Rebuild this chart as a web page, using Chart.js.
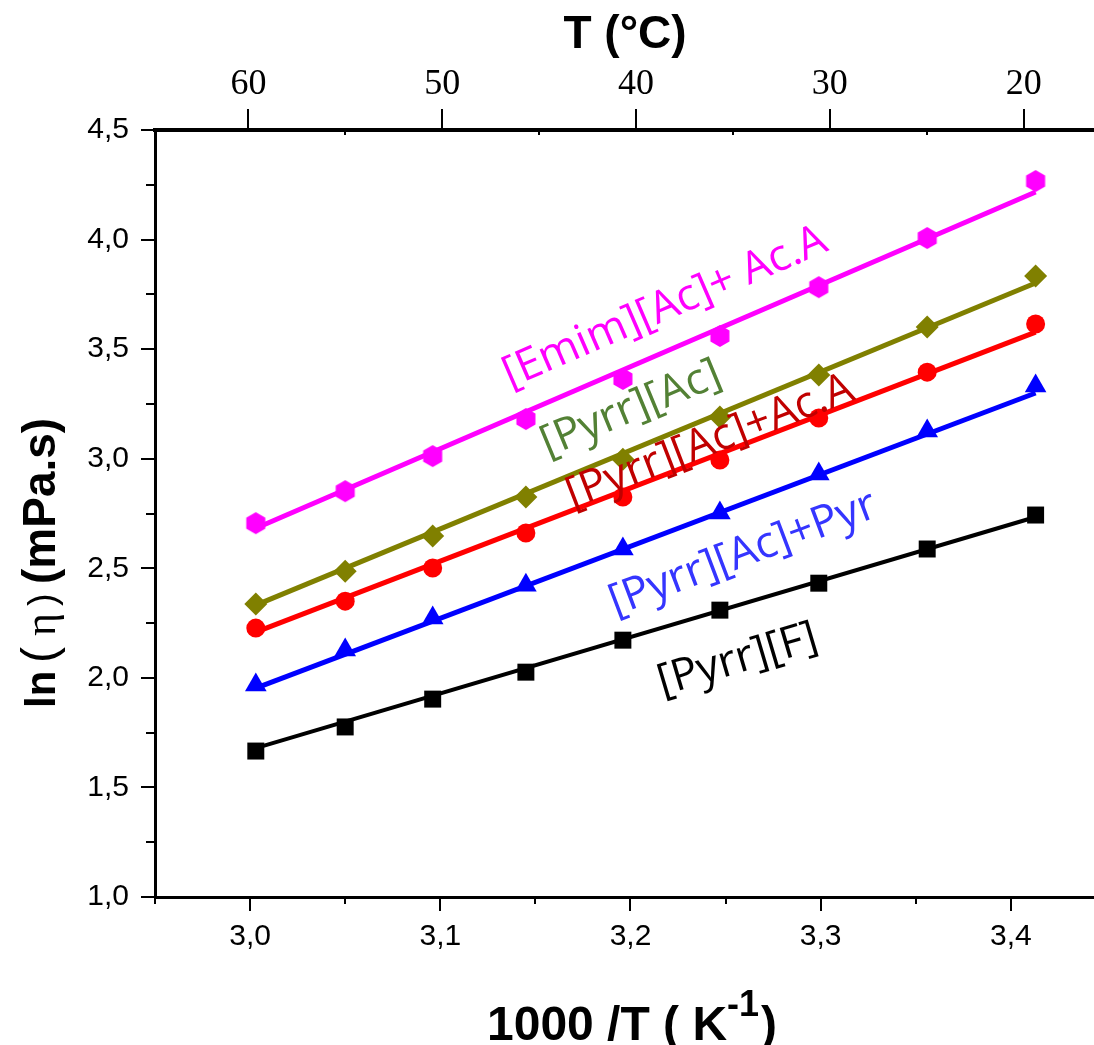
<!DOCTYPE html>
<html>
<head>
<meta charset="utf-8">
<script src="https://cdn.jsdelivr.net/npm/chart.js@4.4.1/dist/chart.umd.min.js"></script>
<style>
  html, body { margin: 0; padding: 0; background: #fff; overflow: hidden; }
  #wrap { position: relative; width: 1094px; height: 1045px; }
  canvas { display: block; }
</style>
</head>
<body>
<div id="wrap"><canvas id="chart"></canvas></div>
<script>
// 1000/T (K^-1) of the measured temperatures
var invT = [3.003, 3.050, 3.096, 3.145, 3.196, 3.247, 3.299, 3.356, 3.413];

// ln(viscosity) per sample
var pyrrF     = [1.666, 1.776, 1.903, 2.026, 2.172, 2.309, 2.432, 2.588, 2.743];
var pyrrAcPyr = [1.967, 2.127, 2.273, 2.423, 2.588, 2.752, 2.930, 3.126, 3.332];
var pyrrAcAcA = [2.227, 2.350, 2.501, 2.661, 2.825, 2.994, 3.186, 3.395, 3.615];
var pyrrAc    = [2.337, 2.487, 2.647, 2.825, 2.998, 3.190, 3.382, 3.601, 3.834];
var emimAcAcA = [2.706, 2.852, 3.012, 3.181, 3.364, 3.560, 3.783, 4.007, 4.267];

// linear fit lines, value at first and last point
var fitX         = [3.003, 3.413];
var fitPyrrF     = [1.679, 2.734];
var fitPyrrAcPyr = [1.953, 3.300];
var fitPyrrAcAcA = [2.209, 3.578];
var fitPyrrAc    = [2.332, 3.802];
var fitEmimAcAcA = [2.683, 4.217];

var seriesNames = ["[Pyrr][F]", "[Pyrr][Ac]+Pyr", "[Pyrr][Ac]+Ac.A", "[Pyrr][Ac]", "[Emim][Ac]+ Ac.A"];

// tick values
var invTTicks  = [3.0, 3.1, 3.2, 3.3, 3.4];
var invTMinor  = [2.95, 3.05, 3.15, 3.25, 3.35];
var tempTicks  = [20, 30, 40, 50, 60];
var tempMinor  = [25, 35, 45, 55];
var lnTicks    = [1.0, 1.5, 2.0, 2.5, 3.0, 3.5, 4.0, 4.5];
var lnMinor    = [1.25, 1.75, 2.25, 2.75, 3.25, 3.75, 4.25];

function hexagon(color, r) {
    var c = document.createElement("canvas");
    var s = Math.ceil(r * 2 + 2);
    c.width = s;
    c.height = s;
    var g = c.getContext("2d");
    g.fillStyle = color;
    g.beginPath();
    for (var i = 0; i < 6; i++) {
        var a = Math.PI / 2 + i * Math.PI / 3;
        g.lineTo(s / 2 + r * Math.cos(a), s / 2 + r * Math.sin(a));
    }
    g.closePath();
    g.fill();
    return c;
}

var values = [pyrrF, pyrrAcPyr, pyrrAcAcA, pyrrAc, emimAcAcA];
var fits = [fitPyrrF, fitPyrrAcPyr, fitPyrrAcAcA, fitPyrrAc, fitEmimAcAcA];
var styles = [
    { color: "#000000", text: "#000000", point: "rect", radius: 12, width: 4 },
    { color: "#0000ff", text: "#3535ff", point: "triangle", radius: 12.5, width: 5 },
    { color: "#ff0000", text: "#c00000", point: "circle", radius: 9.5, width: 5 },
    { color: "#808000", text: "#538135", point: "rectRot", radius: 11.5, width: 5 },
    { color: "#ff00ff", text: "#ff00ff", point: hexagon("#ff00ff", 11), radius: 11, width: 5 }
];
// where each curve name sits (data coordinates of the text centre)
var notePos = [
    { x: 3.2563, y: 2.081 },
    { x: 3.2591, y: 2.565 },
    { x: 3.2418, y: 3.076 },
    { x: 3.2003, y: 3.227 },
    { x: 3.2181, y: 3.690 }
];

var datasets = [];
values.forEach(function (v, i) {
    var st = styles[i];
    datasets.push({
        label: seriesNames[i] + " fit",
        data: fitX.map(function (x, k) { return { x: x, y: fits[i][k] }; }),
        showLine: true,
        borderColor: st.color,
        borderWidth: st.width,
        pointRadius: 0,
        xAxisID: "x",
        yAxisID: "y"
    });
    datasets.push({
        label: seriesNames[i],
        data: invT.map(function (x, k) { return { x: x, y: v[k] }; }),
        showLine: false,
        pointStyle: st.point,
        pointRadius: st.radius,
        backgroundColor: st.color,
        borderColor: st.color,
        borderWidth: 0,
        xAxisID: "x",
        yAxisID: "y"
    });
});

var sans = "'Liberation Sans', Arial, sans-serif";
var serif = "'Liberation Serif', 'Times New Roman', serif";

function fixTicks(list) {
    return function (scale) {
        scale.ticks = list.map(function (v) { return { value: v }; });
    };
}
function comma(v) { return Number(v).toFixed(1).replace(".", ","); }

var blackGrid = function (len) {
    return { display: true, drawOnChartArea: false, drawTicks: true, tickLength: len,
             tickWidth: 2, tickColor: "#000", color: "#000", lineWidth: 2 };
};

var decor = {
    id: "decor",
    afterDraw: function (chart) {
        var ctx = chart.ctx;
        var a = chart.chartArea;
        var sx = chart.scales.x, sy = chart.scales.y, st = chart.scales.x2;
        ctx.save();
        ctx.strokeStyle = "#000";
        ctx.lineWidth = 2;
        ctx.beginPath();
        invTMinor.forEach(function (v) {
            var p = Math.round(sx.getPixelForValue(v));
            ctx.moveTo(p, a.bottom); ctx.lineTo(p, a.bottom + 7);
        });
        lnMinor.forEach(function (v) {
            var p = Math.round(sy.getPixelForValue(v));
            ctx.moveTo(a.left, p); ctx.lineTo(a.left - 9, p);
        });
        tempMinor.forEach(function (v) {
            var p = Math.round(st.getPixelForValue(v));
            ctx.moveTo(p, a.top); ctx.lineTo(p, a.top + 5);
        });
        ctx.stroke();

        // curve names, parallel to their fit lines
        ctx.font = "44px 'Open Sans', sans-serif";
        ctx.textAlign = "center";
        ctx.textBaseline = "middle";
        notePos.forEach(function (n, i) {
            var f = fits[i];
            var dx = sx.getPixelForValue(fitX[1]) - sx.getPixelForValue(fitX[0]);
            var dy = sy.getPixelForValue(f[1]) - sy.getPixelForValue(f[0]);
            ctx.save();
            ctx.translate(sx.getPixelForValue(n.x), sy.getPixelForValue(n.y));
            ctx.rotate(Math.atan2(dy, dx));
            ctx.fillStyle = styles[i].text;
            ctx.fillText(seriesNames[i], 0, 0);
            ctx.restore();
        });

        // axis titles
        ctx.fillStyle = "#000";
        ctx.textBaseline = "alphabetic";
        ctx.textAlign = "center";
        ctx.font = "bold 46px " + sans;
        ctx.fillText("T (°C)", 625, 48);

        ctx.textAlign = "left";
        var x0 = 487;
        ctx.font = "bold 48px " + sans;
        ctx.fillText("1000 /T ( K", x0, 1040);
        x0 += ctx.measureText("1000 /T ( K").width;
        ctx.font = "bold 36px " + sans;
        ctx.fillText("-1", x0, 1016);
        x0 += ctx.measureText("-1").width + 2;
        ctx.font = "bold 48px " + sans;
        ctx.fillText(")", x0, 1040);

        ctx.save();
        ctx.translate(55, 708);
        ctx.rotate(-Math.PI / 2);
        var parts = [
            { t: "ln", f: "bold 42px " + sans, at: 0 },
            { t: "(", f: "48px " + sans, at: 45 },
            { t: "η", f: "44px " + serif, at: 72 },
            { t: ")", f: "38px " + sans, at: 102 },
            { t: "(mPa.s)", f: "bold 46px " + sans, at: 124 }
        ];
        parts.forEach(function (p) {
            ctx.font = p.f;
            ctx.fillText(p.t, p.at, 0);
        });
        ctx.restore();
        ctx.restore();
    }
};

new Chart(document.getElementById("chart"), {
    type: "scatter",
    data: { datasets: datasets },
    options: {
        responsive: true,
        maintainAspectRatio: false,
        animation: false,
        layout: { padding: 0, autoPadding: false },
        plugins: { legend: { display: false }, tooltip: { enabled: false } },
        scales: {
            x: {
                type: "linear", position: "bottom", min: 2.95, max: 3.4437,
                afterBuildTicks: fixTicks(invTTicks),
                afterFit: function (s) { s.height = 148; },
                grid: blackGrid(14),
                border: { display: true, color: "#000", width: 3 },
                ticks: { color: "#000", padding: 8, maxRotation: 0,
                         font: { family: sans, size: 30 }, callback: comma }
            },
            x2: {
                type: "linear", position: "top", reverse: true, min: 16.37, max: 64.82,
                afterBuildTicks: fixTicks(tempTicks),
                afterFit: function (s) { s.height = 130; },
                grid: blackGrid(21),
                border: { display: true, color: "#000", width: 4 },
                ticks: { color: "#000", padding: 3, maxRotation: 0,
                         font: { family: serif, size: 36 },
                         callback: function (v) { return String(v); } }
            },
            y: {
                type: "linear", position: "left", min: 1, max: 4.5,
                afterBuildTicks: fixTicks(lnTicks),
                afterFit: function (s) { s.width = 155; },
                grid: blackGrid(14),
                border: { display: true, color: "#000", width: 3 },
                ticks: { color: "#000", padding: 12,
                         font: { family: sans, size: 30 }, callback: comma }
            }
        }
    },
    plugins: [decor]
});
</script>
</body>
</html>
